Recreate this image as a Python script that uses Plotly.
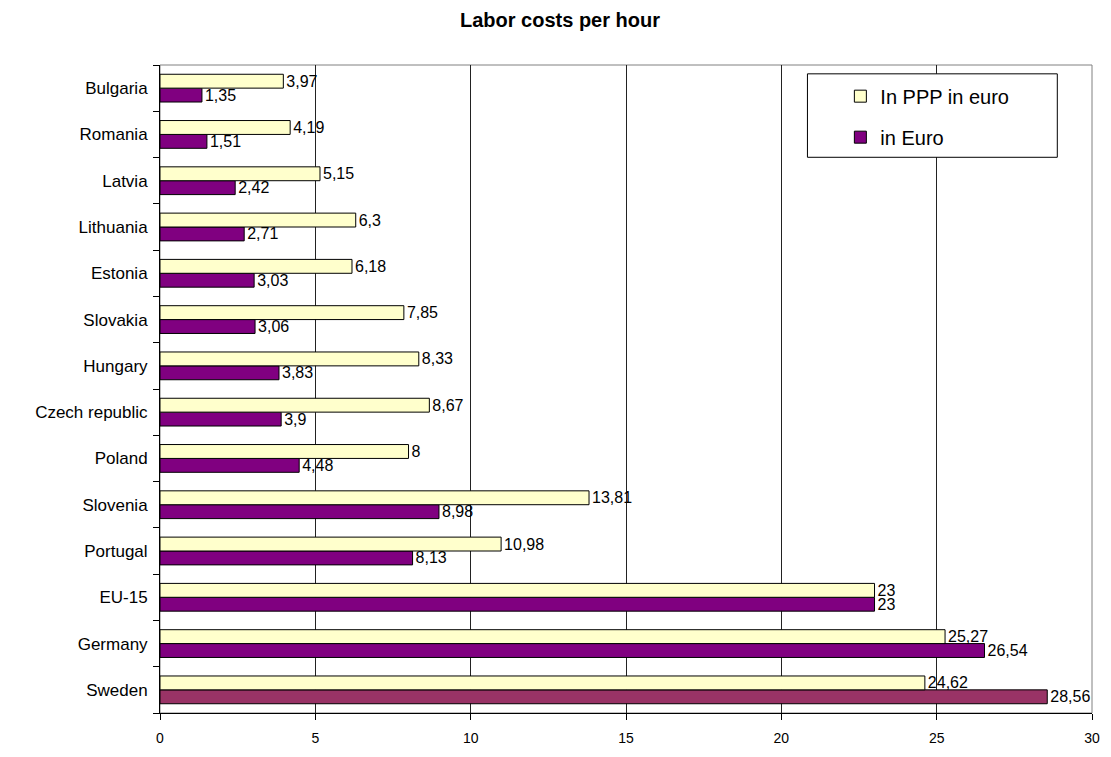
import plotly.graph_objects as go

categories = ["Sweden", "Germany", "EU-15", "Portugal", "Slovenia", "Poland",
              "Czech republic", "Hungary", "Slovakia", "Estonia", "Lithuania",
              "Latvia", "Romania", "Bulgaria"]
ppp_euro = [24.62, 25.27, 23, 10.98, 13.81, 8, 8.67, 8.33, 7.85, 6.18, 6.3, 5.15, 4.19, 3.97]
in_euro = [28.56, 26.54, 23, 8.13, 8.98, 4.48, 3.9, 3.83, 3.06, 3.03, 2.71, 2.42, 1.51, 1.35]
x_ticks = [0, 5, 10, 15, 20, 25, 30]


def fmt(v):
    s = f"{v:.2f}".rstrip("0").rstrip(".")
    return s.replace(".", ",")


LBL = dict(family="Arial", size=16, color="black")

fig = go.Figure()
# "in Euro" series: Sweden highlighted in a different shade
fig.add_trace(go.Bar(
    y=categories[:1], x=in_euro[:1], orientation="h", name="in Euro",
    marker=dict(color="#993366", line=dict(color="black", width=1)),
    text=[fmt(v) for v in in_euro[:1]], textposition="outside", textfont=LBL,
    constraintext="none",
    cliponaxis=False, offsetgroup="euro", showlegend=False, legendgroup="b",
))
fig.add_trace(go.Bar(
    y=categories[1:], x=in_euro[1:], orientation="h", name="in Euro",
    marker=dict(color="#800080", line=dict(color="black", width=1)),
    text=[fmt(v) for v in in_euro[1:]], textposition="outside", textfont=LBL,
    constraintext="none",
    cliponaxis=False, offsetgroup="euro", legendgroup="b", legendrank=2,
))
fig.add_trace(go.Bar(
    y=categories, x=ppp_euro, orientation="h", name="In PPP in euro",
    marker=dict(color="#FFFFCC", line=dict(color="black", width=1)),
    text=[fmt(v) for v in ppp_euro], textposition="outside", textfont=LBL,
    constraintext="none",
    cliponaxis=False, offsetgroup="ppp", legendgroup="a", legendrank=1,
))

fig.update_layout(
    width=1111, height=757,
    margin=dict(l=160, r=11, t=65, b=32),
    paper_bgcolor="white", plot_bgcolor="white",
    barmode="group", bargap=0.40, bargroupgap=0,
    font=dict(family="Arial", color="black"),
    title=dict(text="<b>Labor costs per hour</b>", x=560 / 1111, xref="container",
               xanchor="center", y=1 - 20 / 757, yref="container", yanchor="middle",
               font=dict(family="Arial", size=20, color="black")),
    legend=dict(x=0.73, y=0.982, xanchor="left", yanchor="top",
                borderwidth=0, bgcolor="rgba(0,0,0,0)",
                font=dict(family="Arial", size=20, color="black"),
                traceorder="grouped", tracegroupgap=12, itemwidth=30),
    uniformtext=dict(mode=False),
)
fig.update_xaxes(range=[0, 30], tickvals=x_ticks, ticktext=[str(t) for t in x_ticks],
                 showgrid=True, gridcolor="#222222", gridwidth=1,
                 showline=True, linecolor="black", linewidth=1,
                 ticks="outside", ticklen=6, tickcolor="black",
                 ticklabelstandoff=6,
                 tickfont=dict(family="Arial", size=14, color="black"),
                 zeroline=False)
fig.update_yaxes(categoryorder="array", categoryarray=categories,
                 showline=True, linecolor="black", linewidth=1,
                 ticks="outside", tickson="boundaries", ticklen=6, tickcolor="black",
                 ticklabelstandoff=8,
                 tickfont=dict(family="Arial", size=17, color="black"),
                 showgrid=False)
# plot frame (grey top/right)
fig.add_shape(type="rect", xref="paper", yref="paper", x0=0, y0=0, x1=1, y1=1,
              line=dict(color="#808080", width=1), layer="below")
# legend box
fig.add_shape(type="rect", xref="paper", yref="paper",
              x0=(813 - 160) / 940, x1=(1065 - 160) / 940,
              y0=(725 - 159) / 660, y1=(725 - 74) / 660,
              line=dict(color="black", width=1), fillcolor="white", layer="above")

fig.write_html("out.html")
